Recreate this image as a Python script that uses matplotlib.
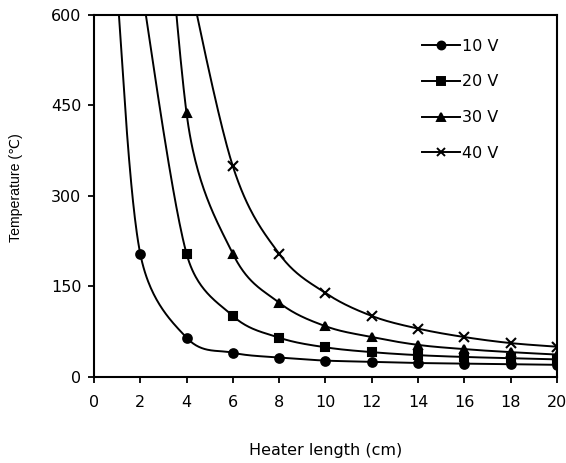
import numpy as np
from matplotlib import pyplot as plt

plt.rcParams['font.family'] = ['DejaVu Sans']

# heater length (cm) and temperature (C);
# first point of each series sits above the plotted range
len_10v = [1, 2, 4, 6, 8, 10, 12, 14, 16, 18, 20]
temp_10v = [640, 204, 65, 40, 32, 27, 25, 23, 22, 21, 20]
len_20v = [2, 4, 6, 8, 10, 12, 14, 16, 18, 20]
temp_20v = [660, 204, 101, 65, 49, 41, 36, 33, 31, 29]
len_30v = [2, 4, 6, 8, 10, 12, 14, 16, 18, 20]
temp_30v = [1400, 437, 204, 123, 84, 66, 53, 46, 41, 37]
len_40v = [4, 6, 8, 10, 12, 14, 16, 18, 20]
temp_40v = [680, 349, 204, 139, 101, 80, 66, 56, 50]

series = [
    ("10 V", len_10v, temp_10v, "o"),
    ("20 V", len_20v, temp_20v, "s"),
    ("30 V", len_30v, temp_30v, "^"),
    ("40 V", len_40v, temp_40v, "x"),
]


def smooth(ax, x, y, n=50):
    # spreadsheet style bezier smoothing, done in screen space
    p = ax.transData.transform(np.column_stack([x, y]).astype(float))
    out = []
    for i in range(len(p) - 1):
        p0 = p[max(i - 1, 0)]
        p1, p2 = p[i], p[i + 1]
        p3 = p[min(i + 2, len(p) - 1)]
        d12 = np.hypot(*(p2 - p1))
        d02 = np.hypot(*(p2 - p0))
        d13 = np.hypot(*(p3 - p1))
        f0 = 1 / 6 if d02 / 6 < d12 / 2 else d12 / (2 * d02)
        f1 = 1 / 6 if d13 / 6 < d12 / 2 else d12 / (2 * d13)
        c1 = p1 + f0 * (p2 - p0)
        c2 = p2 - f1 * (p3 - p1)
        t = np.linspace(0, 1, n)[:, None]
        seg = ((1 - t) ** 3 * p1 + 3 * (1 - t) ** 2 * t * c1
               + 3 * (1 - t) * t ** 2 * c2 + t ** 3 * p2)
        out.append(seg)
    out = ax.transData.inverted().transform(np.vstack(out))
    return out[:, 0], out[:, 1]


fig, ax = plt.subplots(figsize=(5.66, 4.63), dpi=100)
fig.subplots_adjust(left=0.166, right=0.984, bottom=0.186, top=0.968)
ax.set_xlim(0, 20)
ax.set_ylim(0, 600)

for label, x, y, m in series:
    sx, sy = smooth(ax, x, y)
    ax.plot(sx, sy, color='black', lw=1.4)
    ms = 6.5 if m == 'x' else 6.2
    ax.plot(x, y, linestyle='none', marker=m, color='black', ms=ms, mew=1.5)
    ax.plot([], [], color='black', lw=1.4, marker=m, ms=ms - 0.5, mew=1.4,
            label=label)

ax.set_xticks(np.arange(0, 21, 2))
ax.set_yticks([0, 150, 300, 450, 600])
ax.tick_params(labelsize=11.5, direction='out', length=4, width=1.3,
               pad=5)
ax.tick_params(axis='x', pad=9)
for s in ax.spines.values():
    s.set_linewidth(1.5)

ax.set_xlabel('Heater length (cm)', fontsize=11.5, va='center')
ax.xaxis.set_label_coords(0.5, -0.204)
ax.set_ylabel('Temperature (℃)', fontsize=10.2, va='center',
              family=['Liberation Sans', 'DejaVu Sans'])
ax.yaxis.set_label_coords(-0.168, 0.522)

ax.legend(loc='upper left', bbox_to_anchor=(0.708, 0.934), frameon=False,
          fontsize=11.5, labelspacing=1.3, handlelength=2.4,
          handletextpad=0.15, borderpad=0, borderaxespad=0)

plt.savefig('out.png')
